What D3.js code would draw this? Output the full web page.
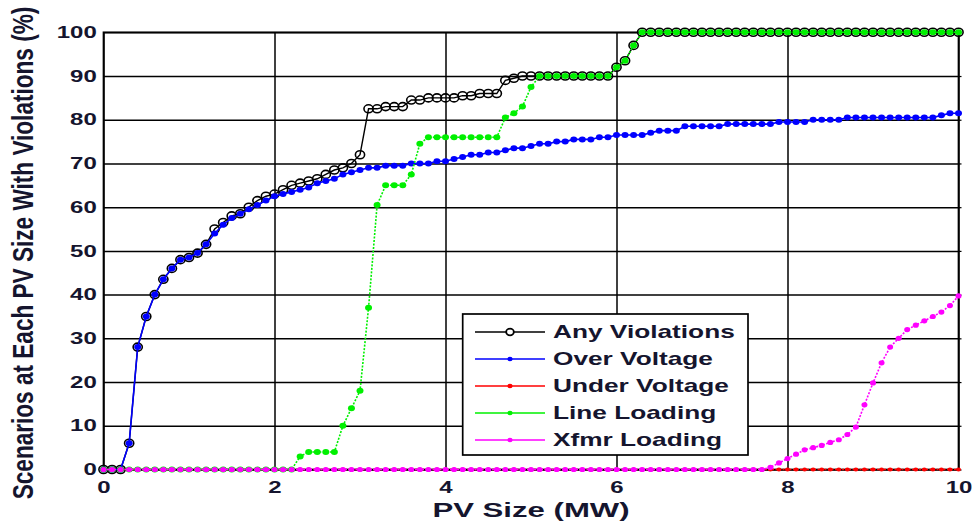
<!DOCTYPE html>
<html>
<head>
<meta charset="utf-8">
<script src="https://cdn.jsdelivr.net/npm/d3@7"></script>
<style>
  html, body { margin: 0; padding: 0; background: #fff; }
  svg { display: block; }
  text { font-family: "Liberation Sans", Arial, sans-serif; font-weight: bold; fill: #15152e; }
</style>
</head>
<body>
<svg id="chart" width="976" height="524"></svg>
<script>
// PV size grid, MW (0.0 to 10.0 in 0.1 MW steps)
const pvSize = d3.range(0, 101).map(i => i / 10);

// Share of scenarios (%) with each violation type at each PV size
const anyViolations = [
  0, 0, 0, 6, 28, 35, 40, 43.5, 46, 48,
  48.5, 49.5, 51.5, 55, 56.5, 58, 58.5, 60, 61.5, 62.5,
  63, 64, 65, 65.5, 66, 66.5, 67.5, 68.5, 69, 70,
  72, 82.5, 82.5, 83, 83, 83, 84.5, 84.5, 85, 85,
  85, 85, 85.5, 85.5, 86, 86, 86, 89, 89.5, 90,
  90, 90, 90, 90, 90, 90, 90, 90, 90, 90,
  92, 93.5, 97, 100, 100, 100, 100, 100, 100, 100,
  100, 100, 100, 100, 100, 100, 100, 100, 100, 100,
  100, 100, 100, 100, 100, 100, 100, 100, 100, 100,
  100, 100, 100, 100, 100, 100, 100, 100, 100, 100,
  100
];
const overVoltage = [
  0, 0, 0, 6, 28, 35, 40, 43.5, 46, 48,
  48.5, 49.5, 51.5, 54, 56, 57.5, 58.5, 59.5, 60.5, 61.5,
  62.5, 63, 63.5, 64, 64.5, 65.5, 66, 66.5, 67.5, 68,
  68.5, 69, 69, 69.5, 69.5, 69.5, 70, 70, 70, 70.5,
  70.5, 71, 71.5, 72, 72, 72.5, 72.5, 73, 73.5, 73.5,
  74, 74.5, 74.5, 75, 75, 75.5, 75.5, 75.5, 76, 76,
  76.5, 76.5, 76.5, 76.5, 77, 77.5, 77.5, 77.5, 78.5, 78.5,
  78.5, 78.5, 78.5, 79, 79, 79, 79, 79, 79, 79.5,
  79.5, 79.5, 79.5, 80, 80, 80, 80, 80.5, 80.5, 80.5,
  80.5, 80.5, 80.5, 80.5, 80.5, 80.5, 80.5, 80.5, 81, 81.5,
  81.5
];
const underVoltage = [
  0, 0, 0, 0, 0, 0, 0, 0, 0, 0,
  0, 0, 0, 0, 0, 0, 0, 0, 0, 0,
  0, 0, 0, 0, 0, 0, 0, 0, 0, 0,
  0, 0, 0, 0, 0, 0, 0, 0, 0, 0,
  0, 0, 0, 0, 0, 0, 0, 0, 0, 0,
  0, 0, 0, 0, 0, 0, 0, 0, 0, 0,
  0, 0, 0, 0, 0, 0, 0, 0, 0, 0,
  0, 0, 0, 0, 0, 0, 0, 0, 0, 0,
  0, 0, 0, 0, 0, 0, 0, 0, 0, 0,
  0, 0, 0, 0, 0, 0, 0, 0, 0, 0,
  0
];
const lineLoading = [
  0, 0, 0, 0, 0, 0, 0, 0, 0, 0,
  0, 0, 0, 0, 0, 0, 0, 0, 0, 0,
  0, 0, 0, 3, 4, 4, 4, 4, 10, 14,
  18, 37, 60.5, 65, 65, 65, 67.5, 74.5, 76, 76,
  76, 76, 76, 76, 76, 76, 76, 80.5, 81.5, 83,
  87.5, 90, 90, 90, 90, 90, 90, 90, 90, 90,
  92, 93.5, 97, 100, 100, 100, 100, 100, 100, 100,
  100, 100, 100, 100, 100, 100, 100, 100, 100, 100,
  100, 100, 100, 100, 100, 100, 100, 100, 100, 100,
  100, 100, 100, 100, 100, 100, 100, 100, 100, 100,
  100
];
const xfmrLoading = [
  0, 0, 0, 0, 0, 0, 0, 0, 0, 0,
  0, 0, 0, 0, 0, 0, 0, 0, 0, 0,
  0, 0, 0, 0, 0, 0, 0, 0, 0, 0,
  0, 0, 0, 0, 0, 0, 0, 0, 0, 0,
  0, 0, 0, 0, 0, 0, 0, 0, 0, 0,
  0, 0, 0, 0, 0, 0, 0, 0, 0, 0,
  0, 0, 0, 0, 0, 0, 0, 0, 0, 0,
  0, 0, 0, 0, 0, 0, 0, 0, 0.5, 1.5,
  2.5, 3.5, 4.5, 5, 5.5, 6.2, 6.8, 8, 9.7, 14.8,
  19.8, 24.4, 28, 30, 32, 33, 34, 35, 36, 37.5,
  39.7
];

const seriesNames = ["Any Violations", "Over Voltage", "Under Voltage", "Line Loading", "Xfmr Loading"];
const xTicks = [0, 2, 4, 6, 8, 10];
const yTicks = [0, 10, 20, 30, 40, 50, 60, 70, 80, 90, 100];
const xTitle = "PV Size (MW)";
const yTitle = "Scenarios at Each PV Size With Violations (%)";

// Series styling, drawn bottom to top
const series = [
  { name: seriesNames[0], values: anyViolations, color: "#000000", width: 1.4, dash: null,    marker: "ring", rx: 4.6, ry: 4.0, lrx: 3.8, lry: 3.3 },
  { name: seriesNames[1], values: overVoltage,   color: "#0000ff", width: 1.6, dash: null,    marker: "dot",  rx: 3.5, ry: 3.0, lrx: 2.6, lry: 2.2 },
  { name: seriesNames[2], values: underVoltage,  color: "#ff0000", width: 1.4, dash: "2,1.5", marker: "dot",  rx: 2.5, ry: 2.1, lrx: 2.6, lry: 2.2 },
  { name: seriesNames[3], values: lineLoading,   color: "#00f000", width: 1.6, dash: "2,1.5", marker: "dot",  rx: 3.5, ry: 3.0, lrx: 2.6, lry: 2.2 },
  { name: seriesNames[4], values: xfmrLoading,   color: "#ff00ff", width: 1.6, dash: "2,1.5", marker: "dot",  rx: 3.0, ry: 2.6, lrx: 2.6, lry: 2.2 }
];

// Horizontal stretch applied to lettering
const TX = 1.5;

const svg = d3.select("#chart");
const plotLeft = 103.5, plotRight = 958.5, plotTop = 32.3, plotBottom = 469.5;

const x = d3.scaleLinear().domain([0, 10]).range([plotLeft, plotRight]);
const y = d3.scaleLinear().domain([0, 100]).range([plotBottom, plotTop]);

// Grid via axes
const gx = svg.append("g")
  .attr("transform", `translate(0,${plotBottom})`)
  .call(d3.axisBottom(x).tickValues(xTicks).tickSize(-(plotBottom - plotTop)).tickFormat(d3.format("d")));
gx.select(".domain").remove();
gx.selectAll(".tick line").attr("stroke", "#000").attr("stroke-width", 1.5);
gx.selectAll(".tick text")
  .attr("y", 23.5).attr("dy", null)
  .attr("transform", `scale(${TX},1)`)
  .style("font-size", "16px").attr("fill", "#15152e");

const gy = svg.append("g")
  .attr("transform", `translate(${plotLeft},0)`)
  .call(d3.axisLeft(y).tickValues(yTicks).tickSize(-(plotRight - plotLeft)).tickFormat(d3.format("d")));
gy.select(".domain").remove();
gy.selectAll(".tick line").attr("stroke", "#000").attr("stroke-width", 1.5);
gy.selectAll(".tick text")
  .attr("x", -4.5)
  .attr("transform", `scale(${TX},1)`)
  .style("font-size", "16px").attr("fill", "#15152e");

// Short outer ticks on the right edge
const gr = svg.append("g")
  .attr("transform", `translate(${plotRight},0)`)
  .call(d3.axisRight(y).tickValues(yTicks).tickSize(3).tickFormat(""));
gr.select(".domain").remove();
gr.selectAll(".tick line").attr("stroke", "#000").attr("stroke-width", 1.2);

// Plot frame
svg.append("rect")
  .attr("x", plotLeft).attr("y", plotTop)
  .attr("width", plotRight - plotLeft).attr("height", plotBottom - plotTop)
  .attr("fill", "none").attr("stroke", "#000").attr("stroke-width", 1.7);

// Series lines and markers
const line = d3.line().x((d, i) => x(pvSize[i])).y(d => y(d));
series.forEach(s => {
  const g = svg.append("g");
  g.append("path")
    .attr("d", line(s.values))
    .attr("fill", "none")
    .attr("stroke", s.color)
    .attr("stroke-width", s.width)
    .attr("stroke-dasharray", s.dash);
  g.selectAll("ellipse").data(s.values).join("ellipse")
    .attr("cx", (d, i) => x(pvSize[i]))
    .attr("cy", d => y(d))
    .attr("rx", s.rx).attr("ry", s.ry)
    .attr("fill", s.marker === "ring" ? "none" : s.color)
    .attr("stroke", s.marker === "ring" ? s.color : "none")
    .attr("stroke-width", 1.6);
});

// Axis titles
svg.append("text")
  .attr("transform", `translate(531,517) scale(1.52,1)`)
  .attr("text-anchor", "middle")
  .style("font-size", "20.5px")
  .text(xTitle);

svg.append("text")
  .attr("transform", `translate(33,253) scale(1.28,1) rotate(-90)`)
  .attr("text-anchor", "middle")
  .style("font-size", "22.6px")
  .text(yTitle);

// Legend
const lg = svg.append("g");
lg.append("rect")
  .attr("x", 462.7).attr("y", 314).attr("width", 285.3).attr("height", 141)
  .attr("fill", "#fff").attr("stroke", "#000").attr("stroke-width", 1.7);
const rowY = d3.scalePoint().domain(seriesNames).range([332, 440]);
series.forEach(s => {
  const cy = rowY(s.name);
  lg.append("line")
    .attr("x1", 475).attr("x2", 545).attr("y1", cy).attr("y2", cy)
    .attr("stroke", s.color).attr("stroke-width", 1.4);
  lg.append("ellipse")
    .attr("cx", 510).attr("cy", cy)
    .attr("rx", s.lrx).attr("ry", s.lry)
    .attr("fill", s.marker === "ring" ? "#fff" : s.color)
    .attr("stroke", s.marker === "ring" ? s.color : "none")
    .attr("stroke-width", 1.8);
  lg.append("text")
    .attr("transform", `translate(553,${cy + 6.3}) scale(${TX},1)`)
    .style("font-size", "17.5px")
    .text(s.name);
});
</script>
</body>
</html>
